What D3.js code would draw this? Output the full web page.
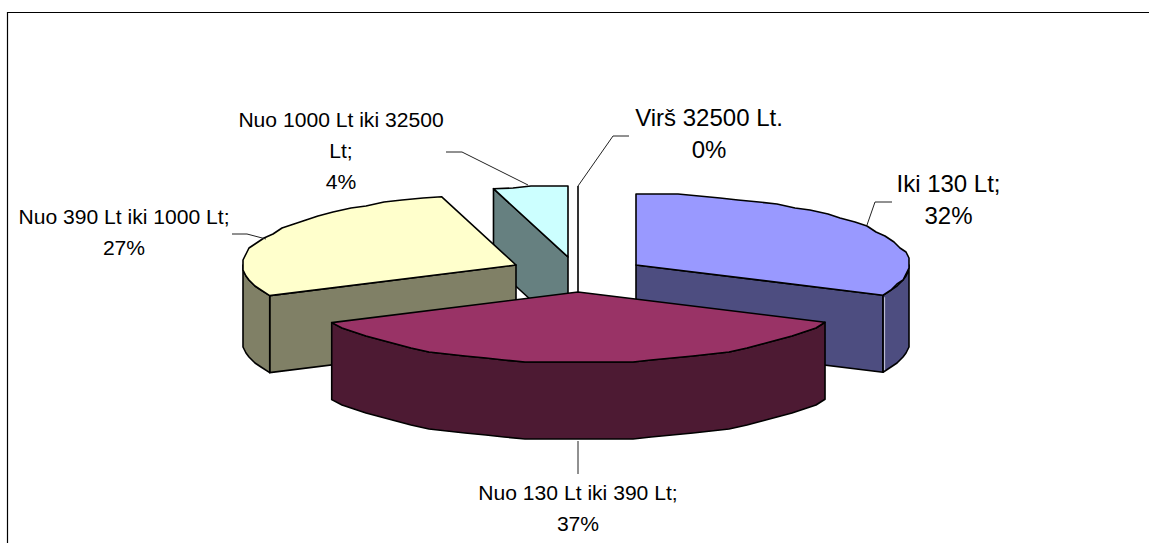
<!DOCTYPE html>
<html><head><meta charset="utf-8">
<script src="https://cdnjs.cloudflare.com/ajax/libs/d3/7.8.5/d3.min.js"></script>
<style>html,body{margin:0;padding:0;background:#fff}svg{display:block}text{font-family:"Liberation Sans",Arial,sans-serif;fill:#000}</style>
</head><body><svg id="c" width="1149" height="543"></svg>
<script>
const categories = ["Iki 130 Lt","Nuo 130 Lt iki 390 Lt","Nuo 390 Lt iki 1000 Lt","Nuo 1000 Lt iki 32500 Lt","Virš 32500 Lt."];
const percentLabels = ["32%","37%","27%","4%","0%"];
// slice sizes as drawn in the picture (the foreshortened 3D view)
const sliceValues = [32.0,35.9,27.7,4.4,0.0];
const topColors = ["#9999FF","#993366","#FFFFCC","#CCFFFF","#FFFFFF"];
const wallColors = ["#4D4D80","#4D1A33","#808066","#668080","#FFFFFF"];
const centersX = [636,578,516,568,578];
const centersY = [265,292,265,257,292];
const labelLines = [["Iki 130 Lt;","32%"],["Nuo 130 Lt iki 390 Lt;","37%"],["Nuo 390 Lt iki 1000 Lt;","27%"],["Nuo 1000 Lt iki 32500","Lt;","4%"],["Virš 32500 Lt.","0%"]];
const labelX = [948.5,578,124,341,709];
const labelY = [192,500,224,127,126];
const labelSize = [24,21.1,21.1,21.1,24];
const labelLeading = [32,30.5,31,31,32];
const leaders = [[[892,202],[875,202],[867,225]],[[578,441],[578,474]],[[232,234],[247,234],[266,239]],[[446,152],[462,152],[528,185]],[[629,136],[613,136],[578,186]]];
const drawOrder = [3,2,0,1];

const rx=273, ry=71, depth=77, step=Math.PI/40, grainX=3, grainY=2;
const svg=d3.select("#c");
svg.append("path").attr("d","M7.5,543V12.5H1149").attr("fill","none").attr("stroke","#000").attr("stroke-width",1.2);

const arcs=d3.pie().value(d=>d).sort(null)(sliceValues);
const px=(i,a)=>centersX[i]+rx*Math.sin(a);
const py=(i,a)=>centersY[i]-ry*Math.cos(a);
const line=d3.line();
// rim points snapped to a coarse grid, giving the wobbly edge of the low-resolution original
function rim(i,a0,a1){
  const n=Math.max(1,Math.ceil((a1-a0)/step));
  return d3.range(n+1).map(k=>{
    const a=a0+(a1-a0)*k/n, x=px(i,a), y=py(i,a);
    return (k===0||k===n)?[x,y]:[Math.round(x/grainX)*grainX,Math.round(y/grainY)*grainY];
  });
}
const g=svg.append("g").attr("stroke","#000").attr("stroke-width",1.6).attr("stroke-linejoin","round");
drawOrder.forEach(i=>{
  const {startAngle:s,endAngle:e}=arcs[i];
  const cx=centersX[i], cy=centersY[i];
  const wall=(pts)=>g.append("path").attr("d",line(pts)+"Z").attr("fill",wallColors[i]);
  if(i===0) wall([[cx,cy],[px(i,e),py(i,e)],[px(i,e),py(i,e)+depth],[cx,cy+depth]]);
  if(i===2||i===3) wall([[cx,cy],[px(i,s),py(i,s)],[px(i,s),py(i,s)+depth],[cx,cy+depth]]);
  const v0=Math.max(s,Math.PI/2), v1=Math.min(e,Math.PI*1.5);
  if(v1>v0){
    const r=rim(i,v0,v1);
    wall(r.concat(r.slice().reverse().map(p=>[p[0],p[1]+depth])));
  }
  if(i===0){
    g.append("line").attr("x1",px(i,e)+1.6).attr("x2",px(i,e)+1.6).attr("y1",py(i,e)+2).attr("y2",py(i,e)+depth-2).attr("stroke","#C8C8DC").attr("stroke-width",1);
  }
  g.append("path").attr("d",line([[cx,cy]].concat(rim(i,s,e)))+"Z").attr("fill",topColors[i]);
});
// zero-size slice: a single edge
g.append("line").attr("x1",centersX[4]).attr("x2",centersX[4]).attr("y1",centersY[4]-106).attr("y2",centersY[4]);

const lead=svg.append("g").attr("fill","none").attr("stroke","#222").attr("stroke-width",1);
leaders.forEach(p=>lead.append("path").attr("d",line(p)));
const tg=svg.append("g").attr("text-anchor","middle");
labelLines.forEach((ls,i)=>{
  ls.forEach((t,j)=>tg.append("text").attr("x",labelX[i]).attr("y",labelY[i]+j*labelLeading[i]).attr("font-size",labelSize[i]).text(t));
});
</script></body></html>
